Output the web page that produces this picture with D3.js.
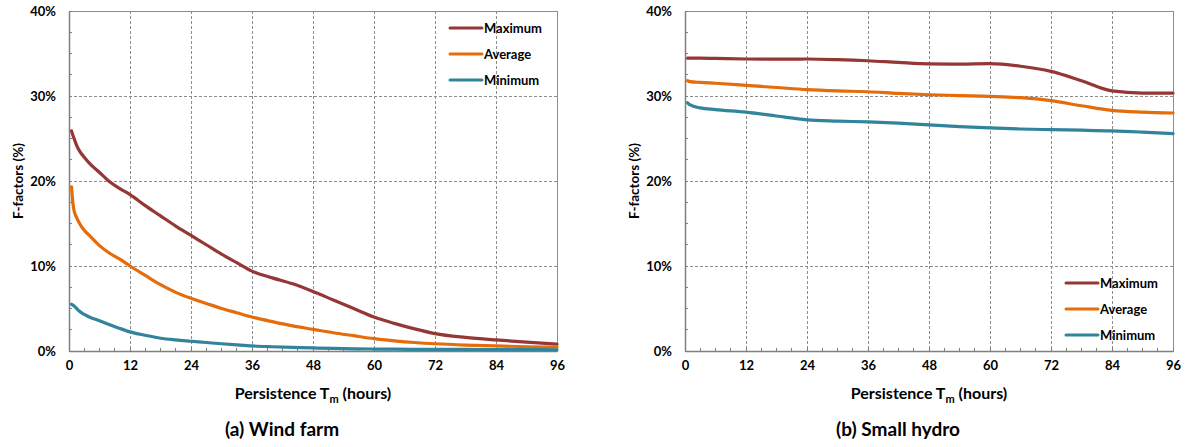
<!DOCTYPE html>
<html>
<head>
<meta charset="utf-8">
<script src="https://cdn.jsdelivr.net/npm/d3@7"></script>
<style>
  html, body { margin: 0; padding: 0; background: #fff; }
  svg { display: block; }
  text { font-family: Lato, "Open Sans", sans-serif; font-weight: bold; fill: #000; }
</style>
</head>
<body>
<svg id="chart" width="1186" height="447"></svg>
<script>
// ---- data ----
const seriesNames = ["Maximum", "Average", "Minimum"];
const seriesColors = ["#953735", "#E46C0A", "#31849B"];
const xTicks = [0, 12, 24, 36, 48, 60, 72, 84, 96];
const yTicks = [0, 10, 20, 30, 40];

// (a) Wind farm
const windHours = [0.5, 0.75, 1, 1.5, 2, 3, 4, 6, 8, 10, 12, 15, 18, 21, 24, 27, 30, 33, 36, 40, 44, 48, 52, 56, 60, 64, 68, 72, 78, 84, 90, 96];
const windMax = [25.9, 25.4, 25.0, 24.2, 23.6, 22.8, 22.1, 21.0, 19.9, 19.1, 18.4, 17.1, 15.9, 14.7, 13.6, 12.5, 11.4, 10.4, 9.4, 8.6, 7.9, 7.0, 6.0, 5.0, 4.0, 3.25, 2.6, 2.05, 1.6, 1.3, 1.05, 0.8];
const windAvg = [19.3, 17.5, 16.5, 15.7, 15.1, 14.2, 13.6, 12.4, 11.5, 10.8, 10.0, 8.9, 7.8, 6.9, 6.2, 5.6, 5.0, 4.5, 4.0, 3.45, 2.95, 2.55, 2.15, 1.8, 1.45, 1.2, 1.0, 0.85, 0.7, 0.6, 0.5, 0.45];
const windMin = [5.5, 5.4, 5.3, 5.0, 4.7, 4.3, 4.0, 3.55, 3.1, 2.65, 2.25, 1.85, 1.5, 1.3, 1.15, 1.0, 0.85, 0.72, 0.6, 0.5, 0.42, 0.36, 0.3, 0.26, 0.23, 0.21, 0.2, 0.19, 0.18, 0.17, 0.16, 0.15];

// (b) Small hydro
const hydroHours = [0.5, 1, 3, 6, 12, 18, 24, 30, 36, 42, 48, 54, 60, 66, 72, 78, 84, 90, 96];
const hydroMax = [34.45, 34.45, 34.45, 34.42, 34.35, 34.33, 34.35, 34.28, 34.15, 33.95, 33.78, 33.75, 33.8, 33.5, 32.9, 31.8, 30.6, 30.35, 30.35];
const hydroAvg = [31.8, 31.7, 31.6, 31.5, 31.25, 31.0, 30.75, 30.6, 30.5, 30.3, 30.15, 30.05, 29.95, 29.8, 29.45, 28.85, 28.3, 28.1, 28.0];
const hydroMin = [29.2, 28.95, 28.6, 28.4, 28.1, 27.65, 27.2, 27.05, 26.95, 26.8, 26.6, 26.4, 26.24, 26.12, 26.04, 25.98, 25.9, 25.75, 25.57];

const panels = [
  { title: "(a) Wind farm", hours: windHours, values: [windMax, windAvg, windMin], left: 69, legendTop: true },
  { title: "(b) Small hydro", hours: hydroHours, values: [hydroMax, hydroAvg, hydroMin], left: 685, legendTop: false }
];

// ---- drawing ----
const svg = d3.select("#chart");
const plotW = 488, plotTop = 11, plotBottom = 351;

panels.forEach(p => {
  const g = svg.append("g");
  const x = d3.scaleLinear().domain([0, 96]).range([p.left, p.left + plotW]);
  const y = d3.scaleLinear().domain([0, 40]).range([plotBottom, plotTop]);

  // gridlines
  g.append("g").selectAll("line").data(xTicks.slice(1, -1)).join("line")
    .attr("x1", d => x(d)).attr("x2", d => x(d)).attr("y1", plotTop).attr("y2", plotBottom)
    .attr("stroke", "#8c8c8c").attr("stroke-width", 1).attr("stroke-dasharray", "3,2").attr("shape-rendering", "crispEdges");
  g.append("g").selectAll("line").data(yTicks.slice(1, -1)).join("line")
    .attr("y1", d => y(d)).attr("y2", d => y(d)).attr("x1", p.left).attr("x2", p.left + plotW)
    .attr("stroke", "#8c8c8c").attr("stroke-width", 1).attr("stroke-dasharray", "3,2").attr("shape-rendering", "crispEdges");

  // border
  g.append("rect").attr("x", p.left).attr("y", plotTop).attr("width", plotW).attr("height", plotBottom - plotTop)
    .attr("fill", "none").attr("stroke", "#8c8c8c").attr("stroke-width", 1).attr("shape-rendering", "crispEdges");

  // minor ticks
  const yMinor = d3.range(0, 40.01, 2.5);
  g.append("g").selectAll("line").data(yMinor).join("line")
    .attr("x1", p.left).attr("x2", p.left + 3).attr("y1", d => y(d)).attr("y2", d => y(d))
    .attr("stroke", "#808080").attr("shape-rendering", "crispEdges");
  const xMinor = d3.range(0, 96.01, 3);
  g.append("g").selectAll("line").data(xMinor).join("line")
    .attr("x1", d => x(d)).attr("x2", d => x(d)).attr("y1", plotBottom).attr("y2", plotBottom - 3)
    .attr("stroke", "#808080").attr("shape-rendering", "crispEdges");

  // axes
  const yAxis = d3.axisLeft(y).tickValues(yTicks).tickFormat(d => d + "%").tickSize(0).tickPadding(13);
  const ya = g.append("g").attr("transform", `translate(${p.left},0)`).call(yAxis);
  ya.select(".domain").attr("stroke", "#808080").attr("stroke-width", 1.5);
  ya.selectAll("text").style("font-size", "13px").style("font-family", "Lato, sans-serif").style("font-weight", "bold");

  const xAxis = d3.axisBottom(x).tickValues(xTicks).tickSize(0).tickPadding(10);
  const xa = g.append("g").attr("transform", `translate(0,${plotBottom})`).call(xAxis);
  xa.select(".domain").attr("stroke", "#808080").attr("stroke-width", 1.5);
  xa.selectAll("text").style("font-size", "13px").style("font-family", "Lato, sans-serif").style("font-weight", "bold");

  // lines
  const line = d3.line().curve(d3.curveMonotoneX).x(d => x(d[0])).y(d => y(d[1]));
  p.values.forEach((vals, i) => {
    const pts = p.hours.map((h, k) => [h, vals[k]]);
    g.append("path").datum(pts).attr("d", line)
      .attr("fill", "none").attr("stroke", seriesColors[i]).attr("stroke-width", 3.2)
      .attr("stroke-linejoin", "round").attr("stroke-linecap", "round");
  });

  // legend
  const lx = p.left + plotW - 107;
  const ly0 = p.legendTop ? 28 : 283;
  seriesNames.forEach((name, i) => {
    const ly = ly0 + i * 26;
    g.append("line").attr("x1", lx).attr("x2", lx + 32).attr("y1", ly).attr("y2", ly)
      .attr("stroke", seriesColors[i]).attr("stroke-width", 3).attr("stroke-linecap", "round");
    g.append("text").attr("x", lx + 34).attr("y", ly).attr("dy", "0.35em")
      .style("font-size", "13px").text(name);
  });

  // axis titles
  const xt = g.append("text").attr("x", p.left + plotW / 2).attr("y", 399)
    .attr("text-anchor", "middle").style("font-size", "16px");
  xt.append("tspan").text("Persistence T");
  xt.append("tspan").attr("dy", 4).style("font-size", "11px").text("m");
  xt.append("tspan").attr("dy", -4).text(" (hours)");

  g.append("text").attr("transform", `translate(${p.left - 46},${(plotTop + plotBottom) / 2}) rotate(-90)`)
    .attr("text-anchor", "middle").style("font-size", "13.5px").text("F-factors (%)");

  // panel title
  g.append("text").attr("x", p.left + plotW / 2 - 31).attr("y", 436)
    .attr("text-anchor", "middle").style("font-size", "19px").text(p.title);
});
</script>
</body>
</html>
